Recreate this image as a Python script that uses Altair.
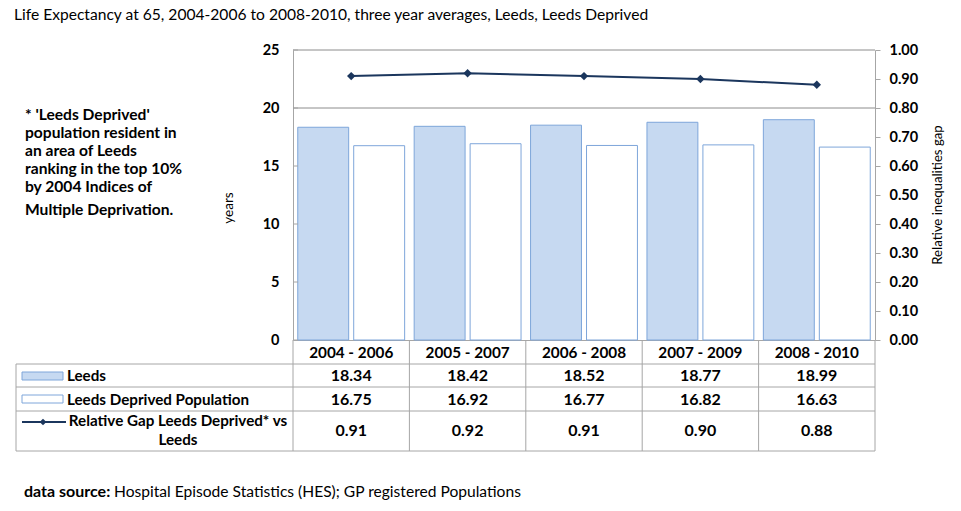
import altair as alt
import pandas as pd

# ---------------- data ----------------
periods = ["2004 - 2006", "2005 - 2007", "2006 - 2008", "2007 - 2009", "2008 - 2010"]
series = ["Leeds", "Leeds Deprived Population"]
leeds = [18.34, 18.42, 18.52, 18.77, 18.99]
deprived = [16.75, 16.92, 16.77, 16.82, 16.63]
gap = [0.91, 0.92, 0.91, 0.90, 0.88]
left_ticks = [0, 5, 10, 15, 20, 25]
right_ticks = [0.0, 0.1, 0.2, 0.3, 0.4, 0.5, 0.6, 0.7, 0.8, 0.9, 1.0]
grid_values = [20, 25]

title_text = "Life Expectancy at 65, 2004-2006 to 2008-2010, three year averages, Leeds, Leeds Deprived"
note_lines = ["* 'Leeds Deprived'", "population resident in", "an area of Leeds",
              "ranking in the top 10%", "by 2004 Indices of"]
note_last = "Multiple Deprivation."
gap_label = ["Relative Gap Leeds Deprived* vs", "Leeds"]
source_bold = "data source:"
source_rest = "Hospital Episode Statistics (HES); GP registered Populations"

bars_df = pd.DataFrame({
    "period": periods * 2,
    "series": [series[0]] * len(periods) + [series[1]] * len(periods),
    "value": leeds + deprived,
})
gap_df = pd.DataFrame({"period": periods, "gap": gap})
table_df = pd.DataFrame({
    "period": periods,
    "leeds": [f"{v:.2f}" for v in leeds],
    "deprived": [f"{v:.2f}" for v in deprived],
    "gap": [f"{v:.2f}" for v in gap],
})
one = pd.DataFrame({"k": [0]})

# ---------------- style ----------------
FONT = "Lato"
NAVY = "#1B365D"
LINE_GREY = "#a6a6a6"
BAR_STROKE = "#7EA6DA"
BAR_FILL = "#C6D9F1"
W, H = 582, 290

xscale = alt.Scale(domain=periods, paddingInner=0, paddingOuter=0)
yscale = alt.Scale(domain=[0, 25], nice=False, zero=True)
rscale = alt.Scale(domain=[0, 1], nice=False, zero=True)

XAXIS = alt.Axis(title=None, labelAngle=0, labelFont=FONT, labelFontSize=15.3,
                 labelFontWeight="bold", labelColor="black", labelPadding=5,
                 ticks=False, domainColor=LINE_GREY, domainWidth=1, grid=False)
YAXIS = alt.Axis(title=None, values=left_ticks, grid=False, ticks=False,
                 labelFont=FONT, labelFontSize=14.5, labelFontWeight="bold",
                 labelColor="black", labelPadding=14, domainColor=LINE_GREY)
RAXIS = alt.Axis(orient="right", title=None, values=right_ticks, format=".2f", grid=False,
                 tickSize=5, tickColor=LINE_GREY, domainColor=LINE_GREY, labelPadding=9,
                 labelFont=FONT, labelFontSize=14.5, labelFontWeight="bold", labelColor="black")


def xenc(**kw):
    return alt.X("period:N", scale=xscale, sort=periods, axis=XAXIS, **kw)


grid = alt.Chart(pd.DataFrame({"value": grid_values})).mark_rule(color="#8c8c8c", strokeWidth=1).encode(
    y=alt.Y("value:Q", scale=yscale, axis=YAXIS)
)

bars = alt.Chart(bars_df).mark_bar(stroke=BAR_STROKE, strokeWidth=1).encode(
    x=xenc(),
    xOffset=alt.XOffset("series:N", sort=series,
                        scale=alt.Scale(domain=series, paddingInner=0.09, paddingOuter=0.085)),
    y=alt.Y("value:Q", scale=yscale, axis=YAXIS),
    fill=alt.Fill("series:N", scale=alt.Scale(domain=series, range=[BAR_FILL, "#FFFFFF"]), legend=None),
)

inner_ticks = alt.Chart(pd.DataFrame({"value": left_ticks})).mark_rule(color=LINE_GREY).encode(
    y=alt.Y("value:Q", scale=yscale, axis=YAXIS), x=alt.value(0), x2=alt.value(5)
)

left = alt.layer(grid, bars, inner_ticks)

line = alt.Chart(gap_df).mark_line(color=NAVY, strokeWidth=2).encode(
    x=xenc(),
    y=alt.Y("gap:Q", scale=rscale, axis=RAXIS),
)
points = alt.Chart(gap_df).mark_point(shape="diamond", filled=True, color=NAVY, size=70, opacity=1).encode(
    x=xenc(),
    y=alt.Y("gap:Q", scale=rscale, axis=RAXIS),
)
right = alt.layer(line, points)

# ---------------- data table ----------------
def row_text(field, y):
    return alt.Chart(table_df).mark_text(font=FONT, fontSize=16, fontWeight="bold", color="black",
                                         baseline="middle").encode(
        x=xenc(), y=alt.value(y), text=f"{field}:N")

table_layers = [row_text("leeds", 326), row_text("deprived", 349.5), row_text("gap", 381)]

for yv in [314, 337, 361, 401]:
    table_layers.append(alt.Chart(one).mark_rule(color=LINE_GREY).encode(
        x=alt.value(-277), x2=alt.value(W), y=alt.value(yv)))
table_layers.append(alt.Chart(pd.DataFrame({"period": periods})).mark_rule(color=LINE_GREY).encode(
    x=xenc(bandPosition=0), y=alt.value(290), y2=alt.value(401)))
table_layers.append(alt.Chart(one).mark_rule(color=LINE_GREY).encode(
    x=alt.value(W), y=alt.value(290), y2=alt.value(401)))
table_layers.append(alt.Chart(one).mark_rule(color=LINE_GREY).encode(
    x=alt.value(-277), y=alt.value(314), y2=alt.value(401)))

# legend keys
table_layers.append(alt.Chart(one).mark_rect(fill=BAR_FILL, stroke=BAR_STROKE, strokeWidth=1).encode(
    x=alt.value(-271), x2=alt.value(-230), y=alt.value(322), y2=alt.value(330)))
table_layers.append(alt.Chart(one).mark_rect(fill="#FFFFFF", stroke=BAR_STROKE, strokeWidth=1).encode(
    x=alt.value(-271), x2=alt.value(-230), y=alt.value(345), y2=alt.value(353)))
table_layers.append(alt.Chart(one).mark_rule(color=NAVY, strokeWidth=2).encode(
    x=alt.value(-271), x2=alt.value(-227), y=alt.value(372)))
table_layers.append(alt.Chart(one).mark_point(shape="diamond", filled=True, color=NAVY, size=45, opacity=1).encode(
    x=alt.value(-250), y=alt.value(372)))

label_style = dict(font=FONT, fontSize=15.2, fontWeight="bold", color="black", baseline="middle")
table_layers.append(alt.Chart(one).mark_text(align="left", text=series[0], **label_style).encode(
    x=alt.value(-226), y=alt.value(326)))
table_layers.append(alt.Chart(one).mark_text(align="left", text=series[1], **label_style).encode(
    x=alt.value(-226), y=alt.value(349.5)))
table_layers.append(alt.Chart(one).mark_text(align="center", text=gap_label, lineHeight=19, **label_style).encode(
    x=alt.value(-115), y=alt.value(371)))

# ---------------- annotations ----------------
ann = []
ann.append(alt.Chart(one).mark_text(align="left", baseline="middle", font=FONT, fontSize=15.6,
                                    color="black", text=title_text).encode(x=alt.value(-279), y=alt.value(-35)))
ann.append(alt.Chart(one).mark_text(align="left", baseline="middle", font=FONT, fontSize=15.6, fontWeight="bold",
                                    color="black", text=note_lines, lineHeight=18).encode(
    x=alt.value(-268), y=alt.value(65)))
ann.append(alt.Chart(one).mark_text(align="left", baseline="middle", font=FONT, fontSize=15.6, fontWeight="bold",
                                    color="black", text=note_last).encode(x=alt.value(-268), y=alt.value(160)))
ann.append(alt.Chart(one).mark_text(align="center", baseline="middle", font=FONT, fontSize=13.5,
                                    color="black", text="years", angle=270).encode(x=alt.value(-64), y=alt.value(158)))
ann.append(alt.Chart(one).mark_text(align="center", baseline="middle", font=FONT, fontSize=13.2,
                                    color="black", text="Relative inequalities gap", angle=270).encode(
    x=alt.value(645), y=alt.value(145)))
ann.append(alt.Chart(one).mark_text(align="left", baseline="middle", font=FONT, fontSize=16, fontWeight="bold",
                                    color="black", text=source_bold).encode(x=alt.value(-269), y=alt.value(442)))
ann.append(alt.Chart(one).mark_text(align="left", baseline="middle", font=FONT, fontSize=15.6,
                                    color="black", text=source_rest).encode(x=alt.value(-179), y=alt.value(442)))

chart = alt.layer(left, right, *table_layers, *ann).resolve_scale(y="independent").properties(
    width=W, height=H,
    autosize=alt.AutoSizeParams(type="none"),
    padding={"left": 293, "top": 50, "right": 86, "bottom": 171},
    background="white",
).configure_view(stroke=None)

chart.save("out.html", embed_options={"renderer": "svg", "actions": False})
